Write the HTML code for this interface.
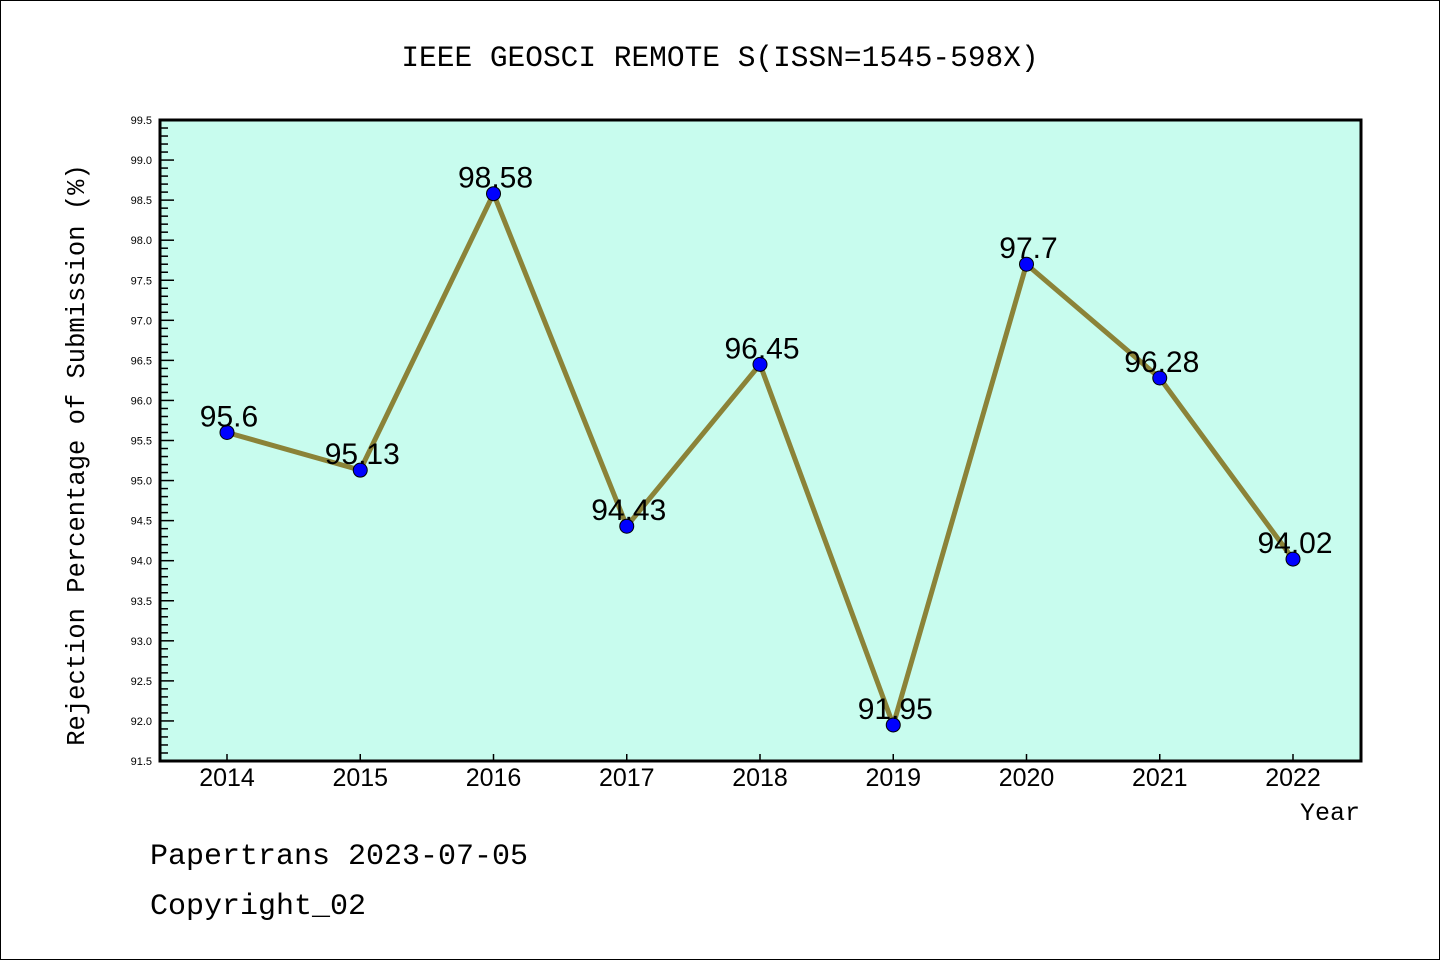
<!DOCTYPE html>
<html><head><meta charset="utf-8"><style>
body{margin:0;background:#fff;}
svg{display:block;font-family:"Liberation Mono","DejaVu Sans Mono",monospace;}
</style></head><body>
<svg id="chart" width="1440" height="960">
<rect x="0.5" y="0.5" width="1439" height="959" fill="#fff" stroke="#000"/>
<text x="720" y="66" text-anchor="middle" font-size="29.5">IEEE GEOSCI REMOTE S(ISSN=1545-598X)</text>
<rect x="160" y="120" width="1201" height="641" fill="#c8fcee"/>
<g id="axes"></g>
<g id="series"></g>
<rect x="160" y="120" width="1201" height="641" fill="none" stroke="#000" stroke-width="3"/>
<text transform="translate(84,455) rotate(-90)" text-anchor="middle" font-size="25.5">Rejection Percentage of Submission (%)</text>
<text x="1360" y="820" text-anchor="end" font-size="25">Year</text>
<text x="150" y="864" font-size="30">Papertrans 2023-07-05</text>
<text x="150" y="914" font-size="30">Copyright_02</text>
</svg>
<script>
const years=["2014","2015","2016","2017","2018","2019","2020","2021","2022"];
const values=[95.6,95.13,98.58,94.43,96.45,91.95,97.7,96.28,94.02];
const valueLabels=["95.6","95.13","98.58","94.43","96.45","91.95","97.7","96.28","94.02"];
const yMin=91.5,yMax=99.5;
const NS="http://www.w3.org/2000/svg";
function X(i){return 227+i*133.25;}
function Y(v){return 761-(v-yMin)/(yMax-yMin)*641;}
function mk(t,a,p){const e=document.createElementNS(NS,t);for(const k in a)e.setAttribute(k,a[k]);p.appendChild(e);return e;}
const ax=document.getElementById('axes'),se=document.getElementById('series');
for(let k=0;k<=80;k++){const v=yMin+k*0.1,y=Y(v),major=k%5===0;
 const l=mk('line',{x1:160,x2:160+(major?14:8),y1:y,y2:y,stroke:'#000','stroke-width':1.5},ax);
 
 
 if(major){const t=mk('text',{x:152,y:y+4,'text-anchor':'end','font-size':11,'font-family':'Liberation Sans,sans-serif'},ax);t.textContent=v.toFixed(1);
 
 }}
years.forEach((yr,i)=>{const x=X(i);
 const l=mk('line',{x1:x,x2:x,y1:761,y2:754,stroke:'#000','stroke-width':1.5},ax);
 
 
 const t=mk('text',{x:x,y:786,'text-anchor':'middle','font-size':25,'font-family':'Liberation Sans,sans-serif'},ax);t.textContent=yr;
 
 });
const pl=mk('polyline',{points:values.map((v,i)=>X(i)+','+Y(v)).join(' '),fill:'none',stroke:'#8b8338','stroke-width':5,'stroke-linejoin':'round'},se);


values.forEach((v,i)=>{
 const c=mk('circle',{cx:X(i),cy:Y(v),r:7,fill:'#0000ff',stroke:'#000','stroke-width':1},se);
 
 
 const t=mk('text',{x:X(i)+2,y:Y(v)-6,'text-anchor':'middle','font-size':30,'font-family':'Liberation Sans,sans-serif'},se);t.textContent=valueLabels[i];
 
 });
</script>
</body></html>
